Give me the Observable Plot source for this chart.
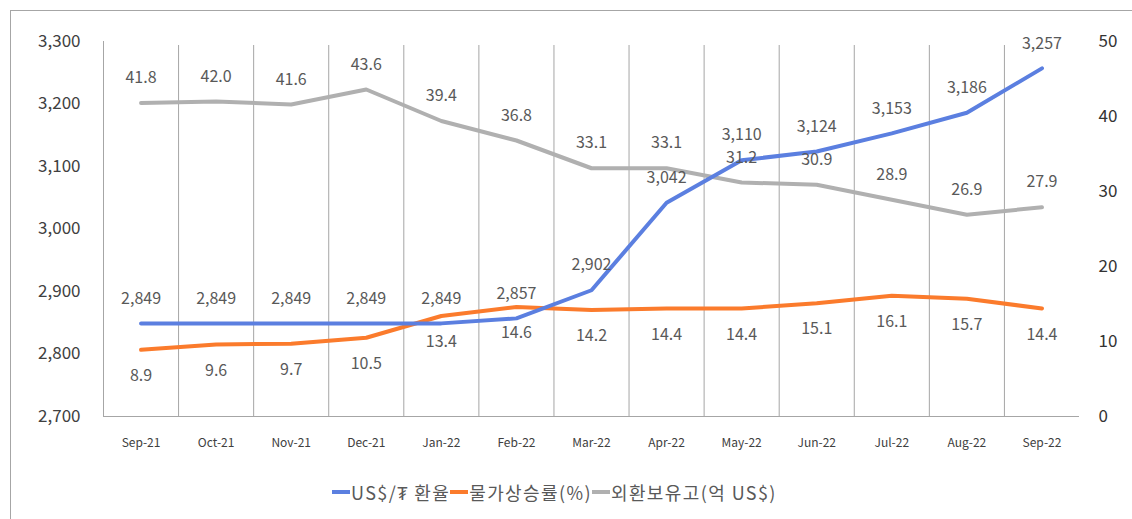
<!DOCTYPE html>
<html>
<head>
<meta charset="utf-8">
<script src="https://cdn.jsdelivr.net/npm/d3@7"></script>
<script src="https://cdn.jsdelivr.net/npm/@observablehq/plot@0.6"></script>
<style>
  html, body { margin: 0; padding: 0; background: #fff; overflow: hidden; }
  #wrap { position: relative; width: 1132px; height: 519px; font-family: "Noto Sans CJK KR", "Noto Sans", sans-serif; }
  #frame { position: absolute; left: 10px; top: 10px; width: 1200px; height: 600px; border: 1px solid #a6a6a6; box-sizing: border-box; }
  #chart { position: absolute; left: 0; top: 0; }
  #legend { position: absolute; left: 332px; top: 479px; display: flex; align-items: center; font-size: 18px; letter-spacing: 1.4px; color: #595959; white-space: nowrap; }
  .sw { display: inline-block; width: 18px; height: 4px; margin-right: 1px; }
</style>
</head>
<body>
<div id="wrap">
  <div id="frame"></div>
  <div id="chart"></div>
  <div id="legend"></div>
</div>
<script>
// ---- data ----
const months = ["Sep-21","Oct-21","Nov-21","Dec-21","Jan-22","Feb-22","Mar-22","Apr-22","May-22","Jun-22","Jul-22","Aug-22","Sep-22"];
const fxRate = [2849,2849,2849,2849,2849,2857,2902,3042,3110,3124,3153,3186,3257];
const inflation = [8.9,9.6,9.7,10.5,13.4,14.6,14.2,14.4,14.4,15.1,16.1,15.7,14.4];
const reserves = [41.8,42.0,41.6,43.6,39.4,36.8,33.1,33.1,31.2,30.9,28.9,26.9,27.9];
const leftTicks = [2700,2800,2900,3000,3100,3200,3300];
const rightTicks = [0,10,20,30,40,50];
const seriesNames = ["US$/₮ 환율","물가상승률(%)","외환보유고(억 US$)"];
const seriesColors = ["#5b7fe0","#fb7b2c","#b0b0b0"];

// right axis (0–50) mapped onto left axis domain (2700–3300)
const L0 = 2700, L1 = 3300, R0 = 0, R1 = 50;
const toLeft = v => L0 + (v - R0) * (L1 - L0) / (R1 - R0);
const toRight = v => R0 + (v - L0) * (R1 - R0) / (L1 - L0);

const rows = months.map((m, i) => ({i, m, fx: fxRate[i], inf: inflation[i], res: reserves[i]}));
const grid = months.slice(0, -1).map((_, i) => i + 0.5);

const W = 1132, H = 470;
const textColor = "#595959";
const axisColor = "#a6a6a6";
const font = "Noto Sans CJK KR";
const curve = "linear";

const chart = Plot.plot({
  width: W, height: H,
  marginLeft: 103, marginRight: 53, marginTop: 41, marginBottom: 54,
  style: {fontFamily: font, background: "transparent", overflow: "visible"},
  x: {type: "linear", domain: [-0.5, months.length - 0.5]},
  y: {domain: [L0, L1]},
  marks: [
    Plot.ruleX(grid, {x: d => d, y1: L0, y2: L1, stroke: axisColor, strokeWidth: 1, insetBottom: -4}),
    Plot.ruleX([-0.5], {y1: L0, y2: L1, stroke: axisColor, strokeWidth: 1}),
    Plot.ruleY([L0], {x1: -0.5, x2: months.length - 0.5, stroke: axisColor, strokeWidth: 1}),
    Plot.line(rows, {x: "i", y: d => toLeft(d.res), stroke: seriesColors[2], strokeWidth: 4, curve, strokeLinejoin: "round"}),
    Plot.line(rows, {x: "i", y: d => toLeft(d.inf), stroke: seriesColors[1], strokeWidth: 4, curve, strokeLinejoin: "round"}),
    Plot.line(rows, {x: "i", y: "fx", stroke: seriesColors[0], strokeWidth: 4, curve, strokeLinejoin: "round"}),
    Plot.text(rows, {x: "i", y: d => toLeft(d.res), text: d => d.res.toFixed(1), dy: -25, fill: textColor, fontSize: 16}),
    Plot.text(rows, {x: "i", y: d => toLeft(d.inf), text: d => d.inf.toFixed(1), dy: 26, fill: textColor, fontSize: 16}),
    Plot.text(rows, {x: "i", y: "fx", text: d => d3.format(",")(d.fx), dy: -25, fill: textColor, fontSize: 16}),
    Plot.axisX({ticks: months.map((_, i) => i), tickFormat: i => months[i], tickSize: 0, tickPadding: 22, fontSize: 12, fill: "#404040", label: null}),
    Plot.axisY({anchor: "left", ticks: leftTicks, tickFormat: d3.format(","), tickSize: 0, tickPadding: 23, fontSize: 17, fill: "#404040", label: null}),
    Plot.axisY({anchor: "right", ticks: rightTicks.map(toLeft), tickFormat: v => String(Math.round(toRight(v))), tickSize: 0, tickPadding: 19, fontSize: 17, fill: "#333333", label: null})
  ]
});
document.getElementById("chart").appendChild(chart);

// legend
const lg = document.getElementById("legend");
seriesNames.forEach((name, k) => {
  const sw = document.createElement("span");
  sw.className = "sw";
  sw.style.background = seriesColors[k];
  const t = document.createElement("span");
  t.textContent = name;
  lg.appendChild(sw);
  lg.appendChild(t);
});
</script>
</body>
</html>
